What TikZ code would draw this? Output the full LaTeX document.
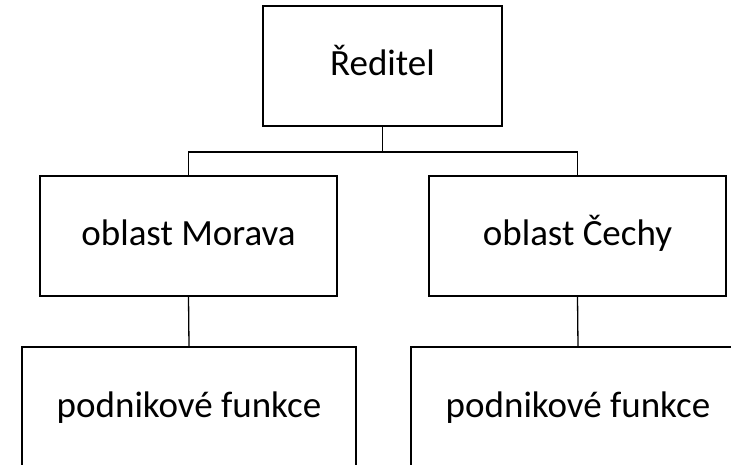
\documentclass[tikz,border=0pt]{standalone}
\usepackage{fontspec}
\setmainfont{Carlito}
\begin{document}
\begin{tikzpicture}[x=1pt,y=1pt,
  unitbox/.style={draw=black, line width=1.3pt, fill=white, minimum height=120pt,
    inner sep=0pt, text height=27pt, text depth=7pt,
    font=\fontsize{37}{44}\selectfont},
  link/.style={draw=black, line width=1.3pt}]
  \useasboundingbox (0,0) rectangle (731,-465);
  \clip (0,0) rectangle (731,-465);
  % top level
  \node[unitbox, minimum width=239pt] (red) at (382.5,-66) {Ředitel};
  % regions
  \node[unitbox, minimum width=297pt] (mor) at (188.5,-236) {oblast Morava};
  \node[unitbox, minimum width=297pt] (cech) at (577.5,-236) {oblast Čechy};
  % functions
  \node[unitbox, minimum width=334pt] (fmor) at (189,-407) {podnikové funkce};
  \node[unitbox, minimum width=334pt] (fcech) at (578,-407) {podnikové funkce};
  % connectors
  \coordinate (j) at (382.5,-152);
  \draw[link] (red.south) -- (j);
  \draw[link] (mor.north) |- (j) -| (cech.north);
  \draw[link] (mor.south) -- (fmor.north);
  \draw[link] (cech.south) -- (fcech.north);
\end{tikzpicture}
\end{document}
